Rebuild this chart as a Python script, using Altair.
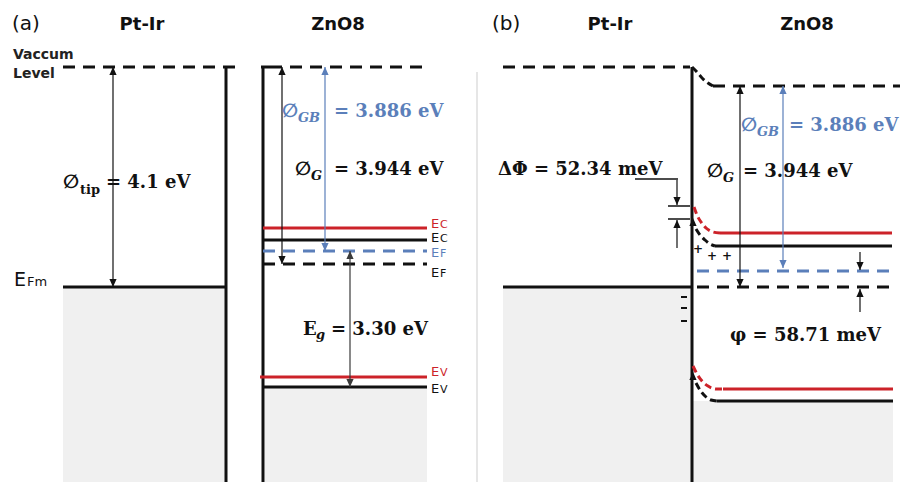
import altair as alt
import pandas as pd

W, H = 906, 482
RED = "#cc2229"
BLUE = "#5b7fba"
BLACK = "#111111"
DARK = "#3a3a3a"
FILL = "#f0f0f0"
SEP = "#e6e6e6"

# ---------------- diagram data (x to the right, y downward) ----------------
# solid segments: x1, y1, x2, y2, colour, width
solid = [
    (226, 67, 226, 482, BLACK, 3), (223, 67, 235, 67, BLACK, 3),      # Pt-Ir wall (a)
    (263, 67, 263, 482, BLACK, 3), (261, 67, 270, 67, BLACK, 3),      # ZnO8 wall (a)
    (63, 287, 226, 287, BLACK, 3),                                     # EFm (a)
    (263, 228, 427, 228, RED, 3), (263, 240, 427, 240, BLACK, 3),      # Ec (a)
    (260, 377, 427, 377, RED, 3), (263, 387, 427, 387, BLACK, 3),      # Ev (a)
    (692, 67, 692, 482, BLACK, 3),                                     # interface (b)
    (503, 287, 692, 287, BLACK, 3),                                    # EFm (b)
    (720, 233, 892, 233, RED, 3), (715, 246, 892, 246, BLACK, 3),      # Ec (b)
    (723, 389, 893, 389, RED, 3), (717, 401, 893, 401, BLACK, 3),      # Ev (b)
    (668, 206, 690, 206, BLACK, 1.5), (668, 219, 690, 219, BLACK, 1.5),
    (635, 179, 678, 179, BLACK, 1.5),                                  # ΔΦ leader
    (681, 297, 687, 297, BLACK, 2), (681, 308, 687, 308, BLACK, 2), (681, 321, 687, 321, BLACK, 2),
    (477, 72, 477, 482, SEP, 2),                                       # panel separator
]
# dashed segments: x1, y1, x2, y2, colour
dashed = [
    (63, 67, 223, 67, BLACK), (270, 67, 430, 67, BLACK),
    (263, 251, 427, 251, BLUE), (263, 264, 427, 264, BLACK),
    (503, 67, 690, 67, BLACK), (713, 86, 900, 86, BLACK),
    (697, 271, 892, 271, BLUE), (697, 287, 892, 287, BLACK),
]
# band bending near the contact (b)
curve_ids = ["vac", "ec_r", "ec", "ev_r", "ev"]
curve_col = [BLACK, RED, BLACK, RED, BLACK]
curve_x = [
    [692, 697, 703, 708, 713],
    [694, 697, 701, 706, 713, 720],
    [696, 700, 705, 710, 715],
    [693, 697, 702, 708, 716, 723],
    [696, 700, 705, 711, 717],
]
curve_y = [
    [67, 72, 79, 83, 86],
    [207, 215, 222, 228, 232, 233],
    [229, 235, 240, 244, 246],
    [366, 374, 381, 386, 389, 389],
    [383, 390, 396, 400, 401],
]
# filled regions: x1, y1, x2, y2
fills = [(63, 287, 226, 482), (265, 387, 427, 482), (503, 287, 692, 482), (693, 401, 893, 482)]
# arrows: x, y_top, y_bottom, colour, heads
arrows = [
    (113, 67, 287, BLACK, "both"), (282, 67, 264, BLACK, "both"),
    (325, 67, 251, BLUE, "both"), (350, 251, 387, DARK, "both"),
    (740, 86, 287, BLACK, "both"), (783, 86, 268, BLUE, "both"),
    (677, 180, 205, BLACK, "down"), (677, 220, 248, BLACK, "up"),
    (860, 252, 270, BLACK, "down"), (860, 289, 312, BLACK, "up"),
]
extra_up_heads = [(693, 218), (693, 372)]

# texts
titles = [("Pt-Ir", 142, 25), ("ZnO8", 338, 25), ("Pt-Ir", 610, 25), ("ZnO8", 807, 25)]
letters = [("(a)", 12, 24), ("(b)", 492, 24)]
vac_lbl = [("Vaccum", 13, 55), ("Level", 13, 74)]
band_lbl = [  # main letter, sub letter, baseline, colour
    ("E", "C", 228, RED), ("E", "C", 242, BLACK), ("E", "F", 257, BLUE), ("E", "F", 277, BLACK),
    ("E", "V", 376, RED), ("E", "V", 393, BLACK),
]
phi_sym = [("∅", 63, 188, BLACK), ("∅", 282, 117, BLUE), ("∅", 295, 175, BLACK),
           ("∅", 741, 131, BLUE), ("∅", 707, 177, BLACK)]
math_main = [
    ("= 4.1 eV", 106, 188, BLACK),
    ("= 3.886 eV", 334, 117, BLUE),
    ("= 3.944 eV", 334, 175, BLACK),
    ("E", 303, 335, BLACK), ("= 3.30 eV", 331, 335, BLACK),
    ("ΔΦ = 52.34 meV", 498, 175, BLACK),
    ("= 3.886 eV", 789, 131, BLUE),
    ("= 3.944 eV", 743, 177, BLACK),
    ("φ = 58.71 meV", 730, 341, BLACK),
]
math_sub_it = [("GB", 298, 122, BLUE), ("G", 311, 180, BLACK), ("g", 316, 339, BLACK),
               ("GB", 757, 136, BLUE), ("G", 723, 182, BLACK)]
math_sub = [("tip", 80, 194, BLACK)]
charges = [("+", 698, 249), ("+", 712, 256), ("+", 727, 256)]

# ---------------- build ----------------
xs = alt.Scale(domain=[0, W], range=[0, W], nice=False, zero=False)
ys = alt.Scale(domain=[0, H], range=[0, H], nice=False, zero=False)


def seg_layer(rows, dash=None):
    df = pd.DataFrame(rows, columns=["x1", "y1", "x2", "y2", "c", "w"])
    kw = {"strokeCap": "butt"}
    if dash:
        kw["strokeDash"] = dash
    return alt.Chart(df).mark_rule(**kw).encode(
        x=alt.X("x1:Q", scale=xs, axis=None), x2="x2:Q",
        y=alt.Y("y1:Q", scale=ys, axis=None), y2="y2:Q",
        color=alt.Color("c:N", scale=None),
        strokeWidth=alt.StrokeWidth("w:Q", scale=None),
    )


def text_layer(rows, size, font="DejaVu Sans", weight="normal", style="normal",
               align="left", baseline="alphabetic"):
    df = pd.DataFrame(rows, columns=["t", "x", "y", "c"])
    return alt.Chart(df).mark_text(font=font, fontSize=size, fontWeight=weight, fontStyle=style,
                                   align=align, baseline=baseline).encode(
        x=alt.X("x:Q", scale=xs, axis=None),
        y=alt.Y("y:Q", scale=ys, axis=None),
        text="t:N",
        color=alt.Color("c:N", scale=None),
    )


fill_df = pd.DataFrame(fills, columns=["x1", "y1", "x2", "y2"])
fill_layer = alt.Chart(fill_df).mark_rect(color=FILL).encode(
    x=alt.X("x1:Q", scale=xs, axis=None), x2="x2:Q",
    y=alt.Y("y1:Q", scale=ys, axis=None), y2="y2:Q")

solid_layer = seg_layer(solid)
dashed_layer = seg_layer([r + (3,) for r in dashed], dash=[12, 8])

crow = []
for cid, col, cx, cy in zip(curve_ids, curve_col, curve_x, curve_y):
    for i, (a, b) in enumerate(zip(cx, cy)):
        crow.append((cid, i, a, b, col))
curve_df = pd.DataFrame(crow, columns=["id", "i", "x", "y", "c"])
curve_layer = alt.Chart(curve_df).mark_line(strokeDash=[7, 4], strokeWidth=3, interpolate="monotone").encode(
    x=alt.X("x:Q", scale=xs, axis=None), y=alt.Y("y:Q", scale=ys, axis=None),
    detail="id:N", order="i:Q", color=alt.Color("c:N", scale=None))

arrow_rows = [(x, t, x, b, c, 1.2) for x, t, b, c, h in arrows]
arrow_layer = seg_layer(arrow_rows)
ups = [(x, t, c) for x, t, b, c, h in arrows if h in ("both", "up")] + [(x, y, BLACK) for x, y in extra_up_heads]
downs = [(x, b, c) for x, t, b, c, h in arrows if h in ("both", "down")]
UP = "M0,0L-0.9,2L0.9,2Z"
DOWN = "M0,0L-0.9,-2L0.9,-2Z"


def head_layer(rows, shape):
    df = pd.DataFrame(rows, columns=["x", "y", "c"])
    return alt.Chart(df).mark_point(filled=True, size=64, opacity=1, shape=shape, strokeWidth=0).encode(
        x=alt.X("x:Q", scale=xs, axis=None), y=alt.Y("y:Q", scale=ys, axis=None),
        color=alt.Color("c:N", scale=None))


layers = [
    fill_layer, solid_layer, dashed_layer, curve_layer, arrow_layer,
    head_layer(ups, UP), head_layer(downs, DOWN),
    text_layer([(t, x, y, BLACK) for t, x, y in titles], 18, weight="bold", align="center", baseline="middle"),
    text_layer([(t, x, y, BLACK) for t, x, y in letters], 20, baseline="middle"),
    text_layer([(t, x, y, "#222222") for t, x, y in vac_lbl], 14, weight="bold", baseline="middle"),
    text_layer([("E", 14, 286, BLACK)], 19),
    text_layer([("Fm", 27, 286, BLACK)], 13),
    text_layer([(m, 431, y, c) for m, s, y, c in band_lbl], 13),
    text_layer([(s, 440, y, c) for m, s, y, c in band_lbl], 11),
    text_layer(phi_sym, 19, font="DejaVu Sans", weight="bold", style="italic"),
    text_layer(math_main, 18, font="DejaVu Serif", weight="bold"),
    text_layer(math_sub_it, 13, font="DejaVu Serif", weight="bold", style="italic"),
    text_layer(math_sub, 13, font="DejaVu Serif", weight="bold"),
    text_layer([(t, x, y, BLACK) for t, x, y in charges], 12, weight="bold", align="center", baseline="middle"),
]

chart = alt.layer(*layers).properties(
    width=W, height=H, padding=0, autosize=alt.AutoSizeParams(type="none"), background="white"
).configure_view(stroke=None)

chart.save("out.html", embed_options={"renderer": "svg", "actions": False})
